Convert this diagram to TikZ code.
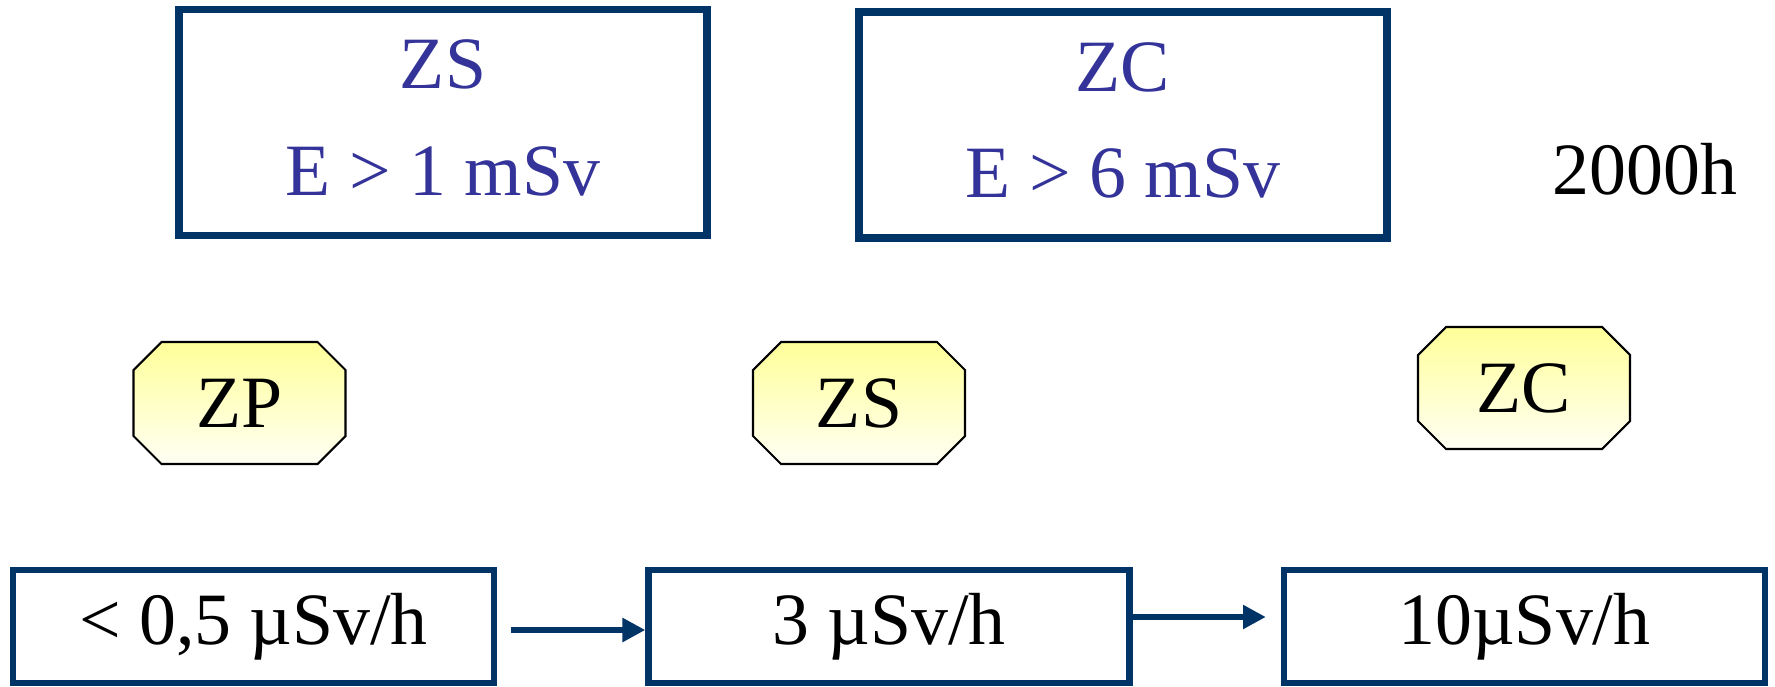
\documentclass[tikz,border=0pt]{standalone}
\usepackage{fontspec}
\setmainfont{Liberation Serif}
\usetikzlibrary{arrows.meta,backgrounds}
\definecolor{zoneframe}{HTML}{003366}
\definecolor{zonetext}{HTML}{333399}
\definecolor{zonetop}{HTML}{FFFF99}
\definecolor{zonebottom}{HTML}{FFFFF4}

\begin{document}
\begin{tikzpicture}[
  x=1cm,
  y=1cm,
  every node/.style={font=\fontsize{21}{30.4}\selectfont},
  dosebox/.style={draw=zoneframe, line width=2.2pt, minimum width=5.28cm,
    minimum height=2.26cm, align=center, text=zonetext, inner sep=0pt,
    text depth=0.1cm},
  zonetag/.style={minimum width=2.12cm, minimum height=1.22cm,
    inner sep=0pt, outer sep=0pt},
  tagshape/.style={draw=black, line width=0.6pt,
    top color=zonetop, bottom color=zonebottom},
  ratebox/.style={draw=zoneframe, line width=1.8pt, minimum width=4.81cm,
    minimum height=1.13cm, inner sep=0pt},
  flow/.style={draw=zoneframe, line width=1.8pt,
    -{Triangle[length=6.5pt,width=6.5pt]}}
]
  \useasboundingbox (0,0) rectangle (17.75,6.86);

  % dose limits
  \node[dosebox] (limS) at (4.43,5.635) {ZS\\E > 1 mSv};
  \node[dosebox] (limC) at (11.23,5.61) {ZC\\E > 6 mSv};
  \node (hours) at (16.45,5.17) {2000h};

  % zones
  \node[zonetag] (tagP) at (2.395,2.83) {ZP};
  \node[zonetag] (tagS) at (8.59,2.83) {ZS};
  \node[zonetag] (tagC) at (15.24,2.98) {ZC};
  \begin{scope}[on background layer]
    \foreach \t in {tagP,tagS,tagC}
      \path[tagshape] ([xshift=0.28cm]\t.north west) -- ([xshift=-0.28cm]\t.north east)
        -- ([yshift=-0.28cm]\t.north east) -- ([yshift=0.28cm]\t.south east)
        -- ([xshift=-0.28cm]\t.south east) -- ([xshift=0.28cm]\t.south west)
        -- ([yshift=0.28cm]\t.south west) -- ([yshift=-0.28cm]\t.north west) -- cycle;
  \end{scope}

  % dose rates
  \node[ratebox] (rateP) at (2.535,0.595) {< 0,5 µSv/h};
  \node[ratebox] (rateS) at (8.89,0.595) {3 µSv/h};
  \node[ratebox] (rateC) at (15.245,0.595) {10µSv/h};

  \draw[flow] ([shift={(0.14,-0.035)}]rateP.east) -- ([yshift=-0.035cm]rateS.west);
  \draw[flow] ([yshift=0.095cm]rateS.east) -- ([shift={(-0.15,0.095)}]rateC.west);
\end{tikzpicture}
\end{document}
